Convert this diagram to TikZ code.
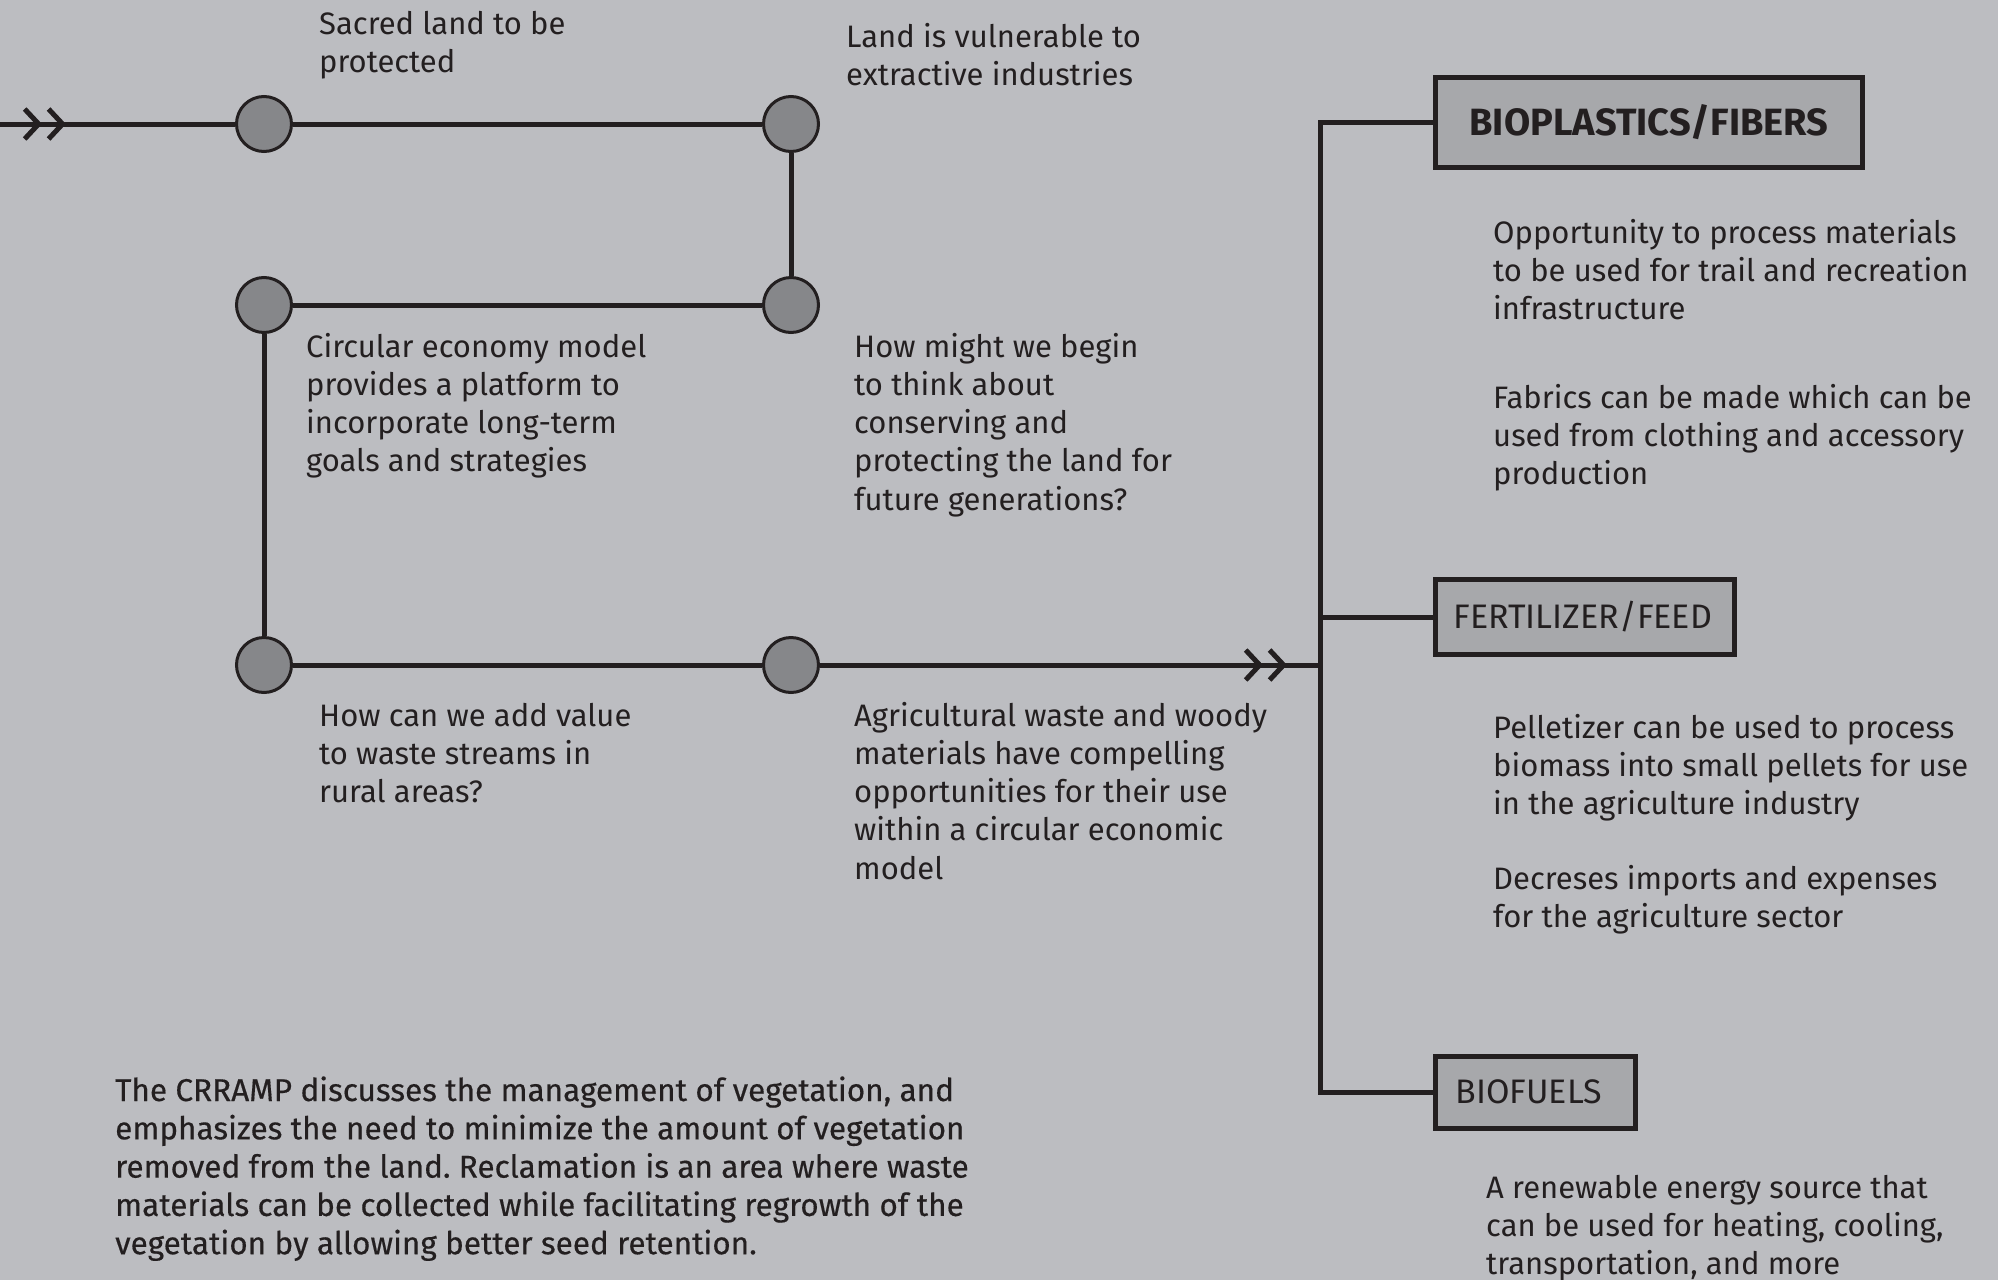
\documentclass[tikz,border=0pt]{standalone}
\usepackage{fontspec}
\setmainfont{Fira Sans}
\newfontfamily\medfont[FakeBold=0.4]{Fira Sans}
\usetikzlibrary{arrows.meta,positioning,decorations.markings}
\frenchspacing

\definecolor{paper}{HTML}{BCBDC1}
\definecolor{ink}{HTML}{231F20}
\definecolor{dotgray}{HTML}{86878A}
\definecolor{panel}{HTML}{A7A8AB}

\tikzset{
  chev/.tip={Straight Barb[length=14pt,width=30pt,sep=4pt]Straight Barb[length=14pt,width=30pt]},
}

\begin{document}
\begin{tikzpicture}[
    x=1pt, y=-1pt,
    wire/.style={draw=ink, line width=5pt},
    fwd/.style={wire, postaction={decorate},
      decoration={markings, mark=at position #1 with {\arrow{chev}}}},
    dotnode/.style={circle, draw=ink, fill=dotgray, line width=3pt, minimum size=55pt, inner sep=0pt},
    box/.style={rectangle, draw=ink, fill=panel, line width=5pt, anchor=west, inner ysep=0pt, text=ink},
    % base of a note = baseline of its last line
    note/.style={anchor=base west, align=left, inner sep=0pt, text=ink, font=\fontsize{31}{38.3}\selectfont}
  ]
    \fill[paper] (0,0) rectangle (1998,1280);
    \useasboundingbox (0,0) rectangle (1998,1280);

    % loop of questions
    \node[dotnode] (sacred) at (264,124) {};
    \node[dotnode] (extract) at (791,124) {};
    \node[dotnode] (circ) at (264,305) {};
    \node[dotnode] (conserve) at (791,305) {};
    \node[dotnode] (value) at (264,665) {};
    \node[dotnode] (agri) at (791,665) {};

    % outputs
    \node[box, minimum width=427pt, minimum height=90pt, font=\bfseries\fontsize{38}{42}\selectfont] (bioplastics) at (1433,122) {BIOPLASTICS/FIBERS};
    \node[box, text width=263pt, inner xsep=18pt, minimum height=75pt, font=\fontsize{34}{38}\selectfont] (fertilizer) at (1433,617) {FERTILIZER/FEED};
    \node[box, text width=160pt, inner xsep=20pt, minimum height=72pt, font=\fontsize{34}{38}\selectfont] (biofuels) at (1433,1092) {BIOFUELS};

    \coordinate (entry) at (0,124);
    \coordinate (bus) at (1320,617);

    \draw[fwd=66pt] (entry) -- (sacred);
    \draw[wire] (sacred) -- (extract);
    \draw[wire] (extract) -- (conserve);
    \draw[wire] (conserve) -- (circ);
    \draw[wire] (circ) -- (value);
    \draw[wire] (value) -- (agri);
    \draw[fwd=-33pt] (agri) -- (agri -| bus);
    \draw[wire] (bioplastics.west) -| (bus) |- (biofuels.west);
    \draw[wire] (fertilizer.west) -- (bus);

    % texts
    \node[note] (sacredtxt) at (319,72.3) {Sacred land to be\\protected};
    \node[note] (extracttxt) at (846,85.3) {Land is vulnerable to\\extractive industries};
    \node[note] (circtxt) at (306,471.9) {Circular economy model\\provides a platform to\\incorporate long-term\\goals and strategies};
    \node[note] (conservetxt) at (854,510.2) {How might we begin\\to think about\\conserving and\\protecting the land for\\future generations?};
    \node[note] (valuetxt) at (319,802.6) {How can we add value\\to waste streams in\\rural areas?};
    \node[note] (agritxt) at (854,879.2) {Agricultural waste and woody\\materials have compelling\\opportunities for their use\\within a circular economic\\model};
    \node[note] (trailtxt) at (1493,319.6) {Opportunity to process materials\\to be used for trail and recreation\\infrastructure};
    \node[note] (fabrictxt) at (1493,484.6) {Fabrics can be made which can be\\used from clothing and accessory\\production};
    \node[note] (pellettxt) at (1493,814.6) {Pelletizer can be used to process\\biomass into small pellets for use\\in the agriculture industry};
    \node[note] (importtxt) at (1493,927.3) {Decreses imports and expenses\\for the agriculture sector};
    \node[note] (energytxt) at (1486,1274.6) {A renewable energy source that\\can be used for heating, cooling,\\transportation, and more};
    \node[note, font=\medfont\fontsize{31.5}{38.3}\selectfont] (crramptxt) at (115,1254.2) {The CRRAMP discusses the management of vegetation, and\\emphasizes the need to minimize the amount of vegetation\\removed from the land. Reclamation is an area where waste\\materials can be collected while facilitating regrowth of the\\vegetation by allowing better seed retention.};
\end{tikzpicture}
\end{document}
